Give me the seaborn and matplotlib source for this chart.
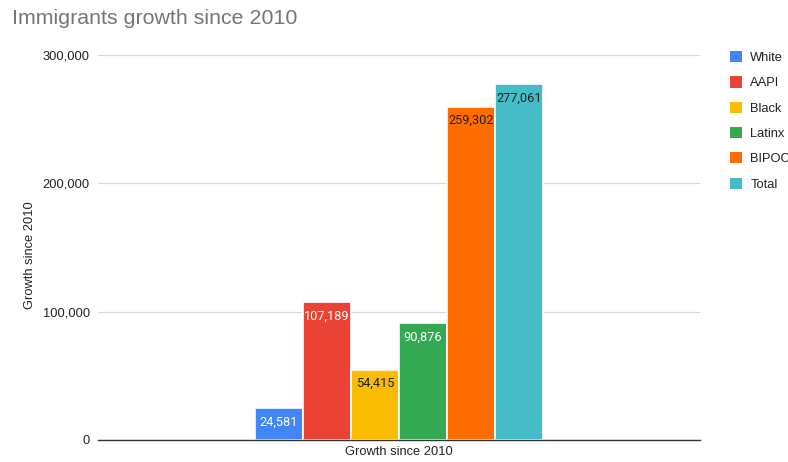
import matplotlib
matplotlib.use("Agg")
import matplotlib.pyplot as plt
from matplotlib.patches import Patch
import seaborn as sns
import pandas as pd

categories = ["White", "AAPI", "Black", "Latinx", "BIPOC", "Total"]
values = [24581, 107189, 54415, 90876, 259302, 277061]
group_label = "Growth since 2010"
colors = ["#4285F4", "#EA4335", "#FBBC04", "#34A853", "#FF6D01", "#46BDC6"]
label_colors = ["white", "white", "#222222", "white", "#222222", "#222222"]
yticks = [0, 100000, 200000, 300000]
ytick_labels = ["0", "100,000", "200,000", "300,000"]

df = pd.DataFrame({"group": [group_label] * len(categories),
                   "category": categories,
                   "value": values})

sns.set_style("white")
plt.rcParams["font.family"] = ["Liberation Sans", "DejaVu Sans"]

fig = plt.figure(figsize=(7.88, 4.62), dpi=100)
ax = fig.add_axes([98 / 788, 22 / 462, 602 / 788, 385 / 462])

sns.barplot(data=df, x="group", y="value", hue="category",
            hue_order=categories, palette=colors, ax=ax,
            width=0.8, legend=False, edgecolor="white", linewidth=1.2,
            saturation=1)

ax.set_xlim(-0.836, 0.836)
ax.set_ylim(0, 300000)
ax.set_yticks(yticks)
ax.set_yticklabels(ytick_labels, fontsize=9.3, color="#222222")
ax.tick_params(axis="both", length=0, pad=6)
ax.tick_params(axis="x", labelsize=9.3, labelcolor="#222222", pad=4)
ax.grid(axis="y", color="#d9d9d9", linewidth=0.9)
ax.set_axisbelow(True)
for side in ["top", "right", "left"]:
    ax.spines[side].set_visible(False)
ax.spines["bottom"].set_color("#333333")
ax.spines["bottom"].set_linewidth(1)
ax.spines["bottom"].set_zorder(5)
ax.set_xlabel("")
ax.set_ylabel("Growth since 2010", fontsize=9.3, color="#222222")
ax.yaxis.set_label_coords(-0.103, 0.48)

# value labels inside the top of each bar
for patch, val, tc in zip(ax.patches, values, label_colors):
    cx = patch.get_x() + patch.get_width() / 2
    ax.annotate(f"{val:,}", (cx, patch.get_height()), xytext=(0, -5),
                textcoords="offset points", ha="center", va="top",
                fontsize=9.2, color=tc, family=["Roboto", "DejaVu Sans"])

fig.text(12 / 788, 1 - 18 / 462, "Immigrants growth since 2010",
         fontsize=15.4, color="#757575", va="center", ha="left")

handles = [Patch(facecolor=c, edgecolor="none") for c in colors]
fig.legend(handles, categories, loc="upper left",
           bbox_to_anchor=(725 / 788, 1 - 46 / 462), frameon=False,
           fontsize=9.3, handlelength=0.95, handleheight=0.95,
           labelspacing=0.95, handletextpad=0.6, borderaxespad=0,
           labelcolor="#222222")

fig.savefig("out.png", dpi=100, facecolor="white")
